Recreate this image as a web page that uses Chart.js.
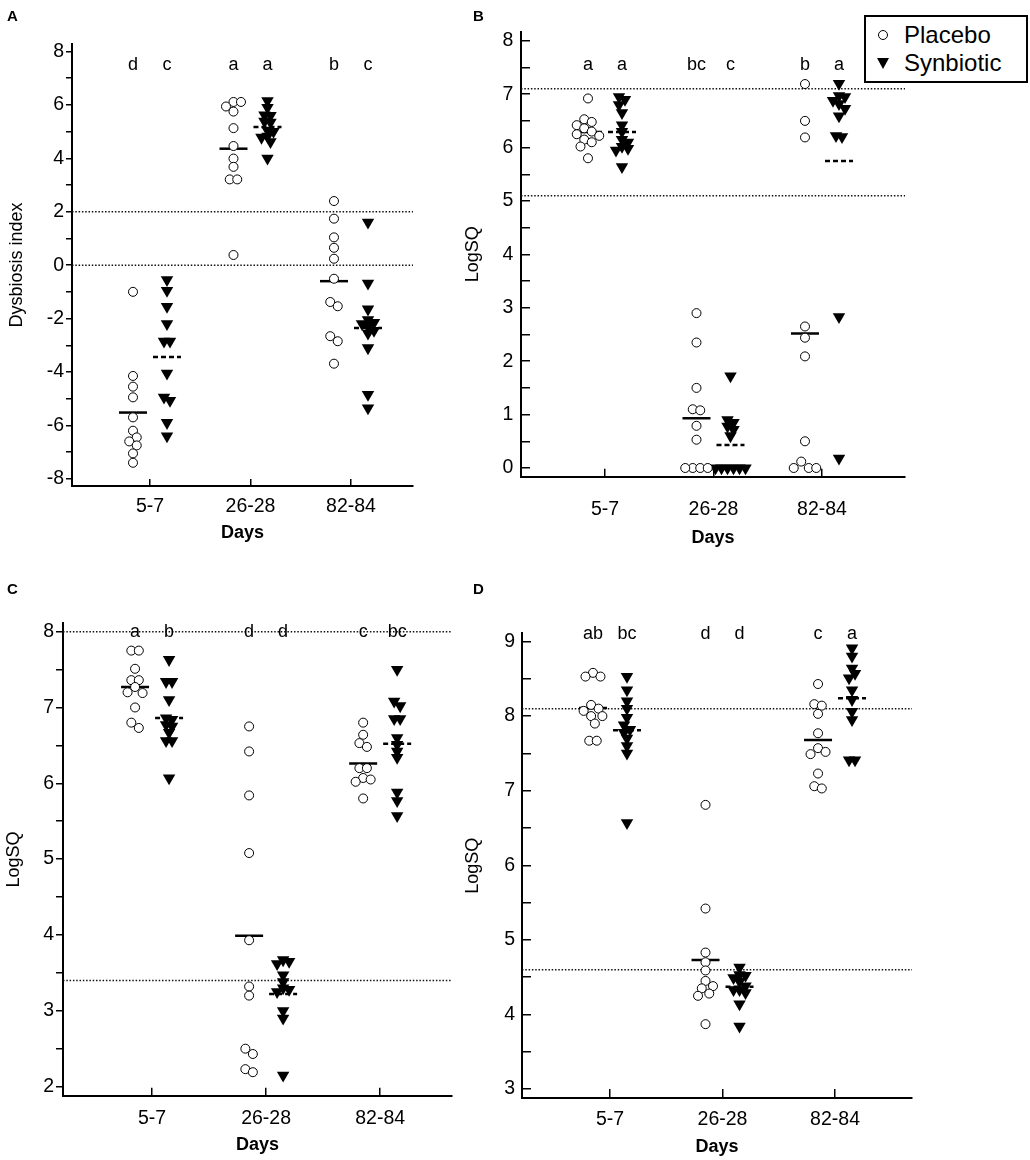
<!DOCTYPE html>
<html>
<head>
<meta charset="utf-8">
<script src="https://cdn.jsdelivr.net/npm/chart.js@4.4.1/dist/chart.umd.min.js"></script>
<style>
  html, body { margin: 0; padding: 0; background: #fff; }
  #page { position: relative; width: 1030px; height: 1160px; font-family: "Liberation Sans", Arial, sans-serif; color: #000; }
  .panel { position: absolute; }
  .tag { position: absolute; font-weight: bold; font-size: 15px; line-height: 15px; }
  #legend { position: absolute; left: 864px; top: 15px; width: 164px; height: 68px; box-sizing: border-box; border: 2px solid #000; background: #fff; font-size: 24px; }
  #legend .row { position: absolute; left: 0; width: 100%; height: 28px; line-height: 28px; }
  #legend .label { position: absolute; left: 38px; top: 0; }
  #legend .circ { position: absolute; left: 12px; top: 9px; width: 10px; height: 10px; box-sizing: border-box; border: 1px solid #000; border-radius: 50%; }
  #legend .tri { position: absolute; left: 10.5px; top: 8.5px; width: 0; height: 0; border-left: 6.5px solid transparent; border-right: 6.5px solid transparent; border-top: 11px solid #000; }
</style>
</head>
<body>
<div id="page">
  <div class="panel" style="left:0;top:0;width:515px;height:560px"><canvas id="chartA"></canvas></div>
  <div class="panel" style="left:455px;top:0;width:575px;height:560px"><canvas id="chartB"></canvas></div>
  <div class="panel" style="left:0;top:560px;width:515px;height:600px"><canvas id="chartC"></canvas></div>
  <div class="panel" style="left:455px;top:560px;width:575px;height:600px"><canvas id="chartD"></canvas></div>

  <div class="tag" style="left:7px;top:8px">A</div>
  <div class="tag" style="left:473px;top:8px">B</div>
  <div class="tag" style="left:7px;top:581px">C</div>
  <div class="tag" style="left:473px;top:581px">D</div>

  <div id="legend">
    <div class="row" style="top:4px"><span class="circ"></span><span class="label">Placebo</span></div>
    <div class="row" style="top:32px"><span class="tri"></span><span class="label">Synbiotic</span></div>
  </div>
</div>

<script>
const days = ['5-7', '26-28', '82-84'];

// A: dysbiosis index
const placeboA = [
  [-1.0, -4.15, -4.55, -4.95, -5.7, -6.2, -6.45, -6.6, -6.75, -7.05, -7.4],
  [6.11, 6.11, 5.94, 5.75, 5.13, 4.46, 3.99, 3.68, 3.21, 3.21, 0.38],
  [2.4, 1.74, 1.04, 0.65, 0.24, -0.51, -1.38, -1.54, -2.66, -2.85, -3.69]
];
const synbioticA = [
  [-0.55, -0.95, -1.55, -2.2, -2.85, -2.85, -4.05, -4.95, -5.07, -5.9, -6.4],
  [6.15, 5.9, 5.62, 5.6, 5.38, 5.35, 5.05, 5.0, 4.82, 4.78, 4.62, 4.0],
  [1.6, -0.68, -1.65, -2.05, -2.15, -2.2, -2.3, -2.45, -2.55, -3.1, -4.85, -5.35]
];
const meanPlaceboA = [-5.52, 4.36, -0.6];
const meanSynbioticA = [-3.44, 5.17, -2.35];
const refLinesA = [0, 2];
const lettersA = ['d', 'c', 'a', 'a', 'b', 'c'];
const yTicksA = [-8, -6, -4, -2, 0, 2, 4, 6, 8];

// B
const placeboB = [
  [6.92, 6.53, 6.48, 6.42, 6.36, 6.3, 6.25, 6.22, 6.15, 6.1, 6.02, 5.8],
  [2.9, 2.35, 1.5, 1.1, 1.08, 0.79, 0.53, 0, 0, 0, 0],
  [7.19, 6.5, 6.19, 2.65, 2.44, 2.09, 0.5, 0.12, 0, 0, 0]
];
const synbioticB = [
  [6.95, 6.9, 6.8, 6.65, 6.42, 6.3, 6.15, 6.1, 6.02, 5.98, 5.95, 5.64],
  [1.72, 0.9, 0.85, 0.78, 0.72, 0.6, 0, 0, 0, 0, 0, 0],
  [7.2, 6.97, 6.95, 6.88, 6.82, 6.73, 6.59, 6.22, 6.2, 2.83, 0.18]
];
const meanPlaceboB = [6.29, 0.93, 2.52];
const meanSynbioticB = [6.29, 0.43, 5.75];
const refLinesB = [5.1, 7.1];
const lettersB = ['a', 'a', 'bc', 'c', 'b', 'a'];
const yTicksB = [0, 1, 2, 3, 4, 5, 6, 7, 8];

// C
const placeboC = [
  [7.75, 7.75, 7.51, 7.36, 7.36, 7.27, 7.2, 7.19, 7.0, 6.8, 6.73],
  [6.75, 6.42, 5.84, 5.08, 3.93, 3.32, 3.2, 2.5, 2.43, 2.23, 2.19],
  [6.8, 6.64, 6.53, 6.48, 6.2, 6.2, 6.07, 6.05, 6.02, 5.8]
];
const synbioticC = [
  [7.63, 7.34, 7.34, 7.1, 6.86, 6.84, 6.77, 6.75, 6.67, 6.56, 6.56, 6.07],
  [3.67, 3.65, 3.62, 3.47, 3.38, 3.3, 3.28, 3.25, 3.0, 2.9, 2.15],
  [7.5, 7.08, 7.02, 6.85, 6.85, 6.6, 6.51, 6.42, 6.34, 5.88, 5.77, 5.57]
];
const meanPlaceboC = [7.27, 3.99, 6.26];
const meanSynbioticC = [6.86, 3.22, 6.52];
const refLinesC = [3.4, 8];
const lettersC = ['a', 'b', 'd', 'd', 'c', 'bc'];
const yTicksC = [2, 3, 4, 5, 6, 7, 8];

// D
const placeboD = [
  [8.58, 8.53, 8.53, 8.15, 8.1, 8.07, 8.0, 8.0, 7.9, 7.67, 7.67],
  [6.81, 5.42, 4.83, 4.7, 4.59, 4.45, 4.38, 4.35, 4.28, 4.25, 3.87],
  [8.43, 8.16, 8.14, 8.03, 7.77, 7.57, 7.52, 7.49, 7.23, 7.06, 7.03]
];
const synbioticD = [
  [8.53, 8.35, 8.2, 8.1, 7.98, 7.88, 7.82, 7.78, 7.7, 7.6, 7.5, 6.57],
  [4.63, 4.53, 4.52, 4.49, 4.44, 4.38, 4.33, 4.33, 4.29, 4.14, 3.84],
  [8.91, 8.8, 8.64, 8.57, 8.51, 8.35, 8.22, 8.06, 7.95, 7.41, 7.41]
];
const meanPlaceboD = [8.11, 4.73, 7.68];
const meanSynbioticD = [7.81, 4.37, 8.24];
const refLinesD = [4.6, 8.1];
const lettersD = ['ab', 'bc', 'd', 'd', 'c', 'a'];
const yTicksD = [3, 4, 5, 6, 7, 8, 9];

const FONT = '"Liberation Sans", Arial, sans-serif';

// spread points that would sit on top of each other (simple beeswarm, pixels)
function swarm(values, pxPerY, diam) {
  const order = values.map((v, i) => i).sort((a, b) => values[b] - values[a]);
  const placed = [];
  const off = new Array(values.length).fill(0);
  const step = diam / 2;
  for (const i of order) {
    const y = values[i] * pxPerY;
    for (let k = 0; k < 60; k++) {
      const cand = k === 0 ? 0 : (k % 2 ? 1 : -1) * Math.ceil(k / 2) * step;
      if (placed.every(p => Math.hypot(p.x - cand, p.y - y) >= diam - 0.01)) {
        placed.push({ x: cand, y, i });
        off[i] = cand;
        break;
      }
    }
  }
  const sorted = placed.slice().sort((a, b) => b.y - a.y);
  let group = [sorted[0]];
  const flush = () => {
    const xs = group.map(p => p.x);
    const c = (Math.min(...xs) + Math.max(...xs)) / 2;
    group.forEach(p => { off[p.i] = p.x - c; });
  };
  for (let j = 1; j < sorted.length; j++) {
    if (Math.abs(sorted[j - 1].y - sorted[j].y) < diam) group.push(sorted[j]);
    else { flush(); group = [sorted[j]]; }
  }
  flush();
  return off;
}

const groupLetters = {
  id: 'groupLetters',
  afterDatasetsDraw(chart, args, opts) {
    const { ctx, scales: { x, y } } = chart;
    ctx.save();
    ctx.font = '18px ' + FONT;
    ctx.fillStyle = '#000';
    ctx.textAlign = 'center';
    ctx.textBaseline = 'middle';
    opts.letters.forEach((t, i) => {
      const xv = Math.floor(i / 2) + 1 + (i % 2 ? 1 : -1) * opts.offset;
      ctx.fillText(t, x.getPixelForValue(xv), y.getPixelForValue(opts.y));
    });
    ctx.restore();
  }
};

const panels = [
  { id: 'chartA', w: 515, h: 560, area: { l: 72, t: 44, r: 413, b: 486 }, padL: 6, padB: 16,
    xMin: 0.224, xMax: 3.617, yMin: -8.27, yMax: 8.28, minorStep: 1,
    yTick: { len: 6, pad: 2 }, xTick: { len: -7, pad: 16 }, letterY: 7.48, yTitle: 'Dysbiosis index',
    placebo: placeboA, synbiotic: synbioticA, meanP: meanPlaceboA, meanS: meanSynbioticA,
    refs: refLinesA, letters: lettersA, yTicks: yTicksA },
  { id: 'chartB', w: 575, h: 560, area: { l: 66, t: 31.7, r: 450, b: 476.7 }, padL: 7, padB: 11.3,
    xMin: 0.226, xMax: 3.765, yMin: -0.163, yMax: 8.17, minorStep: 0.5,
    yTick: { len: -9, pad: 16.7 }, xTick: { len: -8, pad: 29 }, letterY: 7.55, yTitle: 'LogSQ',
    placebo: placeboB, synbiotic: synbioticB, meanP: meanPlaceboB, meanS: meanSynbioticB,
    refs: refLinesB, letters: lettersB, yTicks: yTicksB },
  { id: 'chartC', w: 515, h: 600, area: { l: 63, t: 63.3, r: 452, b: 535.7 }, padL: 3, padB: 4.2,
    xMin: 0.219, xMax: 3.63, yMin: 1.88, yMax: 8.11, minorStep: 0.5,
    yTick: { len: 7, pad: 2 }, xTick: { len: -8, pad: 19.6 }, letterY: 8.0, yTitle: 'LogSQ',
    placebo: placeboC, synbiotic: synbioticC, meanP: meanPlaceboC, meanS: meanSynbioticC,
    refs: refLinesC, letters: lettersC, yTicks: yTicksC },
  { id: 'chartD', w: 575, h: 600, area: { l: 67, t: 73.3, r: 457, b: 538 }, padL: 7, padB: 2.5,
    xMin: 0.218, xMax: 3.684, yMin: 2.88, yMax: 9.11, minorStep: 0.5,
    yTick: { len: -9, pad: 16 }, xTick: { len: -9, pad: 18.5 }, letterY: 9.1, yTitle: 'LogSQ',
    placebo: placeboD, synbiotic: synbioticD, meanP: meanPlaceboD, meanS: meanSynbioticD,
    refs: refLinesD, letters: lettersD, yTicks: yTicksD }
];

function makePanel(p) {
  const a = p.area;
  const pxPerX = (a.r - a.l) / (p.xMax - p.xMin);
  const pxPerY = (a.b - a.t) / (p.yMax - p.yMin);
  const groupOff = 17 / pxPerX;
  const meanHalf = 14 / pxPerX;

  const placeboPts = [];
  const synbioticPts = [];
  p.placebo.forEach((vals, g) => {
    const offs = swarm(vals, pxPerY, 7.5);
    vals.forEach((v, i) => placeboPts.push({ x: g + 1 - groupOff + offs[i] / pxPerX, y: v }));
  });
  p.synbiotic.forEach((vals, g) => {
    const offs = swarm(vals, pxPerY, 6);
    vals.forEach((v, i) => synbioticPts.push({ x: g + 1 + groupOff + offs[i] / pxPerX, y: v }));
  });

  const datasets = [
    { label: 'Placebo', data: placeboPts, pointStyle: 'circle', pointRadius: 4.5,
      backgroundColor: '#fff', borderColor: '#000', borderWidth: 1, order: 0 },
    { label: 'Synbiotic', data: synbioticPts, pointStyle: 'triangle', rotation: 180, pointRadius: 7.2,
      backgroundColor: '#000', borderColor: '#000', borderWidth: 0, order: 0 }
  ];
  p.meanP.forEach((m, g) => datasets.push({
    data: [{ x: g + 1 - groupOff - meanHalf, y: m }, { x: g + 1 - groupOff + meanHalf, y: m }],
    showLine: true, pointRadius: 0, borderColor: '#000', borderWidth: 2.5, order: 1
  }));
  p.meanS.forEach((m, g) => datasets.push({
    data: [{ x: g + 1 + groupOff - meanHalf, y: m }, { x: g + 1 + groupOff + meanHalf, y: m }],
    showLine: true, pointRadius: 0, borderColor: '#000', borderWidth: 2.5, borderDash: [5, 3], order: 1
  }));
  p.refs.forEach(r => datasets.push({
    data: [{ x: p.xMin, y: r }, { x: p.xMax, y: r }],
    showLine: true, pointRadius: 0, borderColor: '#111', borderWidth: 1.5, borderDash: [1.5, 1.8], order: 2
  }));

  const majors = p.yTicks;
  new Chart(document.getElementById(p.id), {
    type: 'scatter',
    data: { datasets },
    plugins: [groupLetters],
    options: {
      responsive: true,
      maintainAspectRatio: false,
      animation: false,
      layout: { padding: { left: p.padL, top: a.t, right: p.w - a.r, bottom: p.padB } },
      scales: {
        x: {
          type: 'linear', min: p.xMin, max: p.xMax,
          afterBuildTicks: s => { s.ticks = [1, 2, 3].map(v => ({ value: v })); },
          afterFit: s => { s.height = p.h - a.b - p.padB; },
          grid: { drawOnChartArea: false, drawTicks: true, tickLength: p.xTick.len, color: '#000', lineWidth: 1.5 },
          border: { display: true, color: '#000', width: 2 },
          ticks: { autoSkip: false, maxRotation: 0, padding: p.xTick.pad, color: '#000',
            font: { family: FONT, size: 19.5 }, callback: v => days[v - 1] },
          title: { display: true, text: 'Days', color: '#000', padding: 0,
            font: { family: FONT, size: 18, weight: 'bold' } }
        },
        y: {
          min: p.yMin, max: p.yMax,
          afterBuildTicks: s => {
            const t = [];
            for (let v = majors[0]; v <= majors[majors.length - 1] + 1e-9; v += p.minorStep) t.push({ value: Math.round(v * 10) / 10 });
            s.ticks = t;
          },
          afterFit: s => { s.width = a.l - p.padL; },
          grid: { drawOnChartArea: false, drawTicks: true, tickLength: p.yTick.len, color: '#000', lineWidth: 1.5 },
          border: { display: true, color: '#000', width: 2 },
          ticks: { autoSkip: false, padding: p.yTick.pad, color: '#000',
            font: { family: FONT, size: 19.5 }, callback: v => (majors.includes(v) ? String(v) : '') },
          title: { display: true, text: p.yTitle, color: '#000', padding: 0,
            font: { family: FONT, size: 18 } }
        }
      },
      plugins: {
        legend: { display: false },
        tooltip: { enabled: false },
        groupLetters: { letters: p.letters, y: p.letterY, offset: groupOff }
      }
    }
  });
}

panels.forEach(makePanel);
</script>
</body>
</html>
